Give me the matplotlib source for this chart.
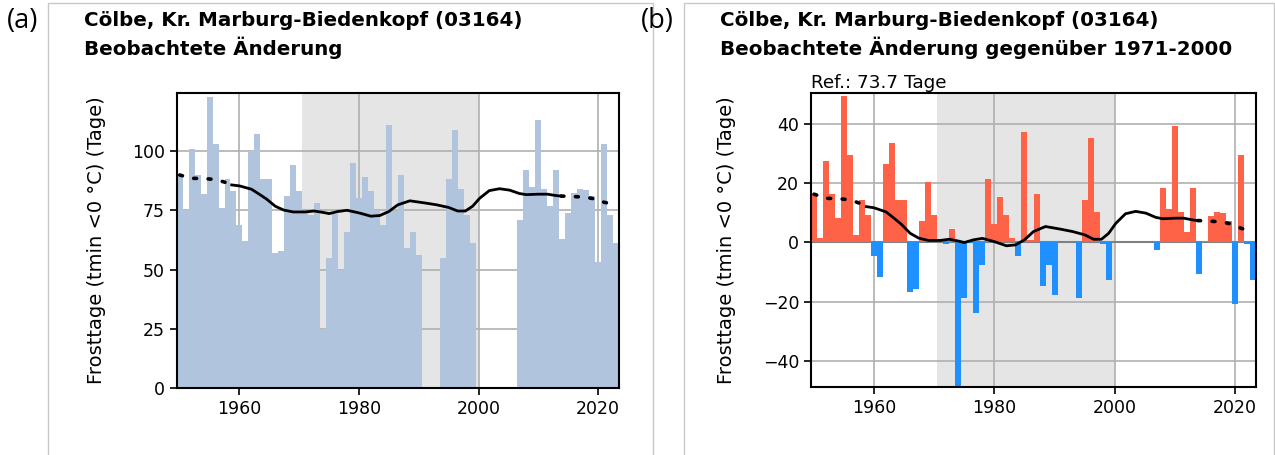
"""Frosttage Cölbe: observed values (a) and anomaly vs. 1971-2000 (b)."""

import matplotlib
matplotlib.use("Agg")
import matplotlib.pyplot as plt
import numpy as np
from matplotlib.patches import Rectangle

# ---------------------------------------------------------------------------
# Data
# ---------------------------------------------------------------------------
nan = np.nan
YEARS = list(range(1950, 2024))
FROST_DAYS = [
    90, 75, 101, 90, 82, 123, 103, 76, 88, 83,         # 1950-1959
    69, 62, 100, 107, 88, 88, 57, 58, 81, 94,          # 1960-1969
    83, 74, 73, 78, 25, 55, 73.5, 50, 66, 95,          # 1970-1979
    80, 89, 83, 75, 69, 111, 74.5, 90, 59, 66,         # 1980-1989
    56, nan, nan, nan, 55, 88, 109, 84, 73, 61,        # 1990-1999
    nan, nan, nan, nan, nan, nan, nan, 71, 92, 85,     # 2000-2009
    113, 84, 77, 92, 63, 74, 82.5, 84, 83.5, 81,       # 2010-2019
    53, 103, 73, 61,                                   # 2020-2023
]
REF_VALUE = 73.7
REF_PERIOD = (1970.5, 2000.0)

# smoothed trend, as anomaly vs. reference
TREND_YEARS = [1950, 1952, 1954, 1956, 1957.5, 1958.7, 1960, 1962, 1963, 1964.5,
               1966, 1967.4, 1969, 1971, 1972.5, 1974, 1975, 1976.5, 1978, 1980,
               1982, 1983.5, 1985, 1986.5, 1988.5, 1991, 1993, 1995, 1996.5, 1997.8,
               1999, 2000.2, 2001.8, 2003.5, 2005.2, 2006.8, 2008, 2010, 2011.5, 2013,
               2013.8, 2015, 2016.6, 2018, 2019.6, 2021, 2022.4, 2023]
TREND_ANOM = [16.2, 14.8, 14.7, 14.3, 13.2, 12.0, 11.6, 10.2, 8.6, 6.1,
              3.0, 1.4, 0.6, 0.6, 1.0, 0.4, -0.1, 0.8, 1.3, 0.2,
              -1.2, -0.9, 0.8, 3.6, 5.3, 4.4, 3.6, 2.5, 1.0, 1.0,
              3.0, 6.4, 9.6, 10.4, 9.8, 8.4, 7.9, 8.1, 8.1, 7.5,
              7.3, 7.2, 7.0, 6.8, 6.0, 4.7, 3.9, 3.4]
SOLID_FROM = 5    # index where the solid part of the trend starts
SOLID_TO = 40     # index where it ends

TITLE_1 = "Cölbe, Kr. Marburg-Biedenkopf (03164)"
TITLE_A = "Beobachtete Änderung"
TITLE_B = "Beobachtete Änderung gegenüber 1971-2000"
YLABEL = "Frosttage (tmin <0 °C) (Tage)"

BAR_COLOR = "#b0c4de"
POS_COLOR = "#ff6347"
NEG_COLOR = "#1e90ff"
SPAN_COLOR = "#e5e5e5"

plt.rcParams["font.family"] = "DejaVu Sans"

W, H = 1275, 455
fig = plt.figure(figsize=(W / 100, H / 100), dpi=100)


def fx(px):
    return px / W


def fy(py):
    return 1 - py / H


# panel frames
for x0, x1 in [(48, 653), (684, 1274)]:
    fig.add_artist(Rectangle((fx(x0), fy(458)), fx(x1 - x0), fy(3) - fy(458),
                             transform=fig.transFigure, fill=False,
                             edgecolor="#c8c8c8", linewidth=1))

fig.text(fx(7), fy(21), "(a)", fontsize=19.5, family="Open Sans", va="center", ha="left")
fig.text(fx(641), fy(21), "(b)", fontsize=19.5, family="Open Sans", va="center", ha="left")
fig.text(fx(84), fy(11), TITLE_1 + "\n" + TITLE_A, fontsize=14.3, fontweight="bold",
         va="top", ha="left", linespacing=1.33)
fig.text(fx(720), fy(11), TITLE_1 + "\n" + TITLE_B, fontsize=14.3, fontweight="bold",
         va="top", ha="left", linespacing=1.33)

ax_a = fig.add_axes([fx(176.7), fy(388), fx(619 - 176.7), fy(93) - fy(388)])
ax_b = fig.add_axes([fx(811), fy(387), fx(1256 - 811), fy(93) - fy(387)])

years = np.array(YEARS)
vals = np.array(FROST_DAYS, dtype=float)
anom = vals - REF_VALUE
t_years = np.array(TREND_YEARS)
t_anom = np.array(TREND_ANOM)

dotted = (0, (0.8, 3.2))

# ---- panel (a)
ax = ax_a
ax.axvspan(*REF_PERIOD, color=SPAN_COLOR, zorder=0, linewidth=0)
ax.bar(years, vals, width=1.0, color=BAR_COLOR, zorder=2, linewidth=0)
tl = t_anom + REF_VALUE
ax.plot(t_years[:SOLID_FROM + 1], tl[:SOLID_FROM + 1], color="black", lw=2.6,
        linestyle=dotted, dash_capstyle="round", zorder=4)
ax.plot(t_years[SOLID_FROM:SOLID_TO + 1], tl[SOLID_FROM:SOLID_TO + 1], color="black",
        lw=2, zorder=4)
ax.plot(t_years[SOLID_TO:], tl[SOLID_TO:], color="black", lw=2.6,
        linestyle=dotted, dash_capstyle="round", zorder=4)
ax.set_ylim(0, 124.5)
ax.set_yticks([0, 25, 50, 75, 100])

# ---- panel (b)
ax = ax_b
ax.axvspan(*REF_PERIOD, color=SPAN_COLOR, zorder=0, linewidth=0)
ax.axhline(0, color="#808080", lw=1.5, zorder=1)
colors = [POS_COLOR if v >= 0 else NEG_COLOR for v in np.nan_to_num(anom)]
ax.bar(years, anom, width=1.0, color=colors, zorder=2, linewidth=0)
ax.plot(t_years[:SOLID_FROM + 1], t_anom[:SOLID_FROM + 1], color="black", lw=2.6,
        linestyle=dotted, dash_capstyle="round", zorder=4)
ax.plot(t_years[SOLID_FROM:SOLID_TO + 1], t_anom[SOLID_FROM:SOLID_TO + 1], color="black",
        lw=2, zorder=4)
ax.plot(t_years[SOLID_TO:], t_anom[SOLID_TO:], color="black", lw=2.6,
        linestyle=dotted, dash_capstyle="round", zorder=4)
ax.set_ylim(-48.8, 50.3)
ax.set_yticks([-40, -20, 0, 20, 40])
ax.text(0, 1.005, f"Ref.: {REF_VALUE} Tage", transform=ax.transAxes, fontsize=13.2,
        ha="left", va="bottom")

for ax in (ax_a, ax_b):
    ax.set_xlim(1949.5, 2023.5)
    ax.set_xticks([1960, 1980, 2000, 2020])
    ax.grid(True, color="#b0b0b0", lw=1.2, zorder=1)
    ax.set_axisbelow(True)
    for sp in ax.spines.values():
        sp.set_linewidth(1.5)
    ax.tick_params(labelsize=12.5, width=1.2, length=5)
    ax.set_ylabel(YLABEL, fontsize=14, labelpad=19)

fig.savefig("out.png", dpi=100)
